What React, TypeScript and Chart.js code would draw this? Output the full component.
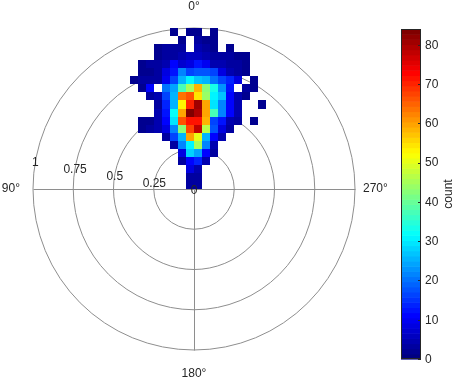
import React, { useEffect, useRef } from 'react';
import { Chart, registerables } from 'chart.js';

Chart.register(...registerables);

// ---- data ----
const binSize = 0.05;
// column bins (left edge index, x = k * binSize), k = -8 .. 8
const colIndex = [-8, -7, -6, -5, -4, -3, -2, -1, 0, 1, 2, 3, 4, 5, 6, 7, 8];
// row bins (bottom edge index, y = m * binSize), listed top to bottom
const rowIndex = [19, 18, 17, 16, 15, 14, 13, 12, 11, 10, 9, 8, 7, 6, 5, 4, 3, 2, 1, 0];
const counts: number[][] = [
  [0, 0, 0, 0, 0, 2, 0, 2, 2, 0, 2, 0, 0, 0, 0, 0, 0],
  [0, 0, 0, 0, 0, 0, 2, 0, 3, 2, 2, 0, 0, 0, 0, 0, 0],
  [0, 0, 0, 2, 3, 3, 3, 0, 4, 3, 2, 0, 2, 0, 0, 0, 0],
  [0, 0, 0, 2, 3, 3, 5, 6, 6, 4, 3, 3, 3, 2, 2, 0, 0],
  [0, 2, 3, 3, 4, 11, 7, 9, 12, 10, 4, 4, 3, 3, 2, 0, 0],
  [0, 2, 2, 3, 9, 13, 22, 17, 18, 18, 16, 9, 4, 3, 2, 0, 0],
  [2, 3, 3, 3, 10, 17, 25, 31, 27, 25, 20, 17, 14, 9, 0, 2, 0],
  [0, 2, 11, 0, 20, 24, 37, 45, 58, 42, 33, 23, 13, 0, 3, 2, 0],
  [0, 0, 3, 4, 16, 25, 63, 66, 55, 44, 31, 27, 11, 4, 2, 0, 0],
  [0, 0, 0, 3, 14, 26, 53, 70, 81, 60, 30, 22, 11, 4, 0, 0, 2],
  [0, 0, 0, 4, 12, 32, 60, 84, 80, 60, 37, 21, 11, 4, 0, 0, 0],
  [0, 2, 2, 5, 11, 30, 66, 71, 71, 59, 16, 12, 5, 3, 0, 2, 0],
  [0, 2, 3, 4, 9, 21, 42, 68, 78, 47, 18, 8, 3, 0, 0, 0, 0],
  [0, 0, 0, 0, 3, 16, 25, 60, 51, 26, 11, 4, 0, 0, 0, 0, 0],
  [0, 0, 0, 0, 0, 3, 22, 31, 45, 22, 4, 0, 0, 0, 0, 0, 0],
  [0, 0, 0, 0, 0, 0, 8, 28, 24, 11, 3, 0, 0, 0, 0, 0, 0],
  [0, 0, 0, 0, 0, 0, 3, 11, 14, 4, 0, 0, 0, 0, 0, 0, 0],
  [0, 0, 0, 0, 0, 0, 0, 8, 4, 0, 0, 0, 0, 0, 0, 0, 0],
  [0, 0, 0, 0, 0, 0, 0, 3, 3, 0, 0, 0, 0, 0, 0, 0, 0],
  [0, 0, 0, 0, 0, 0, 0, 3, 3, 0, 0, 0, 0, 0, 0, 0, 0],
];
const rTicks = [0, 0.25, 0.5, 0.75, 1];
const rTickLabels = ['0', '0.25', '0.5', '0.75', '1'];
const thetaTicks = [0, 90, 180, 270];
const thetaLabels = ['0°', '90°', '180°', '270°'];
const cbarTicks = [0, 10, 20, 30, 40, 50, 60, 70, 80];
const cMin = 0;
const cMax = 84;
const cbarTitle = 'count';

// ---- layout constants (pixels) ----
const W = 455;
const H = 379;
const CX = 194;
const CY = 189;
const RPX = 161;
const R_AXIS_ANGLE = 80; // degrees, theta measured from top, counter-clockwise
const CB = { left: 401, right: 421, top: 29, bottom: 359 };
const NCOLORS = 64;
const FONT = '12px "Liberation Sans", Arial, Helvetica, sans-serif';
const TEXT = '#262626';
const GRID = '#8e8e8e';

function jet(t: number): string {
  const c = (v: number) => Math.round(255 * Math.max(0, Math.min(1, v)));
  const r = 1.5 - Math.abs(4 * t - 3);
  const g = 1.5 - Math.abs(4 * t - 2);
  const b = 1.5 - Math.abs(4 * t - 1);
  return `rgb(${c(r)},${c(g)},${c(b)})`;
}
function colorFor(v: number): string {
  let t = (v - cMin) / (cMax - cMin);
  t = Math.max(0, Math.min(1, t));
  const idx = Math.min(NCOLORS - 1, Math.floor(t * NCOLORS));
  return jet(idx / (NCOLORS - 1));
}

const points: { x: number; y: number; v: number }[] = [];
rowIndex.forEach((m, i) => {
  colIndex.forEach((k, j) => {
    const v = counts[i][j];
    if (v > 0) points.push({ x: (k + 0.5) * binSize, y: (m + 0.5) * binSize, v });
  });
});

// draws each bin as a crisp rectangle, edges taken from the chart's scales
const binCells = {
  id: 'binCells',
  afterDatasetsDraw(chart: any) {
    const { ctx } = chart;
    const xs = chart.scales.x;
    const ys = chart.scales.y;
    const half = binSize / 2;
    ctx.save();
    points.forEach((p) => {
      const x0 = Math.round(xs.getPixelForValue(p.x - half));
      const x1 = Math.round(xs.getPixelForValue(p.x + half));
      const y0 = Math.round(ys.getPixelForValue(p.y + half));
      const y1 = Math.round(ys.getPixelForValue(p.y - half));
      ctx.fillStyle = colorFor(p.v);
      ctx.fillRect(x0, y0, x1 - x0, y1 - y0);
    });
    ctx.restore();
  },
};

const polarGrid = {
  id: 'polarGrid',
  beforeDatasetsDraw(chart: any) {
    const { ctx } = chart;
    const xs = chart.scales.x;
    const ys = chart.scales.y;
    const cx = xs.getPixelForValue(0);
    const cy = ys.getPixelForValue(0);
    const rMax = rTicks[rTicks.length - 1];
    const pr = (r: number) => xs.getPixelForValue(r) - cx;
    ctx.save();
    ctx.strokeStyle = GRID;
    ctx.lineWidth = 1;
    rTicks.forEach((r) => {
      if (r <= 0) return;
      ctx.beginPath();
      ctx.arc(cx, cy, pr(r), 0, Math.PI * 2);
      ctx.stroke();
    });
    thetaTicks.forEach((th) => {
      const a = (th * Math.PI) / 180;
      ctx.beginPath();
      ctx.moveTo(Math.round(cx) + 0.5, Math.round(cy) + 0.5);
      ctx.lineTo(Math.round(cx - Math.sin(a) * pr(rMax)) + 0.5, Math.round(cy - Math.cos(a) * pr(rMax)) + 0.5);
      ctx.stroke();
    });
    ctx.restore();
  },
  afterDraw(chart: any) {
    const { ctx } = chart;
    const xs = chart.scales.x;
    const ys = chart.scales.y;
    const cx = xs.getPixelForValue(0);
    const cy = ys.getPixelForValue(0);
    const rMax = rTicks[rTicks.length - 1];
    const pr = (r: number) => xs.getPixelForValue(r) - cx;
    ctx.save();
    ctx.font = FONT;
    ctx.fillStyle = TEXT;
    // r tick labels
    const ra = (R_AXIS_ANGLE * Math.PI) / 180;
    ctx.textAlign = 'center';
    ctx.textBaseline = 'middle';
    rTicks.forEach((r, i) => {
      const x = cx - Math.sin(ra) * pr(r);
      const y = cy - Math.cos(ra) * pr(r) + 1.5;
      ctx.fillText(rTickLabels[i], x, y);
    });
    // theta labels
    const R = pr(rMax);
    thetaTicks.forEach((th, i) => {
      const label = thetaLabels[i];
      if (th === 0) {
        ctx.textAlign = 'center';
        ctx.textBaseline = 'middle';
        ctx.fillText(label, cx, cy - R - 21);
      } else if (th === 180) {
        ctx.textAlign = 'center';
        ctx.textBaseline = 'middle';
        ctx.fillText(label, cx, cy + R + 24);
      } else if (th === 90) {
        ctx.textAlign = 'right';
        ctx.textBaseline = 'middle';
        ctx.fillText(label, cx - R - 13, cy);
      } else {
        ctx.textAlign = 'left';
        ctx.textBaseline = 'middle';
        ctx.fillText(label, cx + R + 8, cy);
      }
    });
    // colorbar
    const h = CB.bottom - CB.top;
    for (let i = 0; i < NCOLORS; i++) {
      const y0 = CB.bottom - (h * (i + 1)) / NCOLORS;
      ctx.fillStyle = jet(i / (NCOLORS - 1));
      ctx.fillRect(CB.left, y0, CB.right - CB.left, h / NCOLORS + 0.6);
    }
    ctx.strokeStyle = TEXT;
    ctx.lineWidth = 1;
    ctx.strokeRect(CB.left + 0.5, CB.top + 0.5, CB.right - CB.left - 1, h - 1);
    ctx.fillStyle = TEXT;
    ctx.textAlign = 'left';
    ctx.textBaseline = 'middle';
    cbarTicks.forEach((v) => {
      const y = CB.bottom - ((v - cMin) / (cMax - cMin)) * h;
      ctx.beginPath();
      ctx.moveTo(CB.right - 3, Math.round(y) + 0.5);
      ctx.lineTo(CB.right, Math.round(y) + 0.5);
      ctx.stroke();
      ctx.fillText(String(v), CB.right + 4, y + 0.5);
    });
    ctx.save();
    ctx.translate(449, (CB.top + CB.bottom) / 2);
    ctx.rotate(-Math.PI / 2);
    ctx.textAlign = 'center';
    ctx.textBaseline = 'middle';
    ctx.fillText(cbarTitle, 0, 0);
    ctx.restore();
    ctx.restore();
  },
};

export default function App() {
  const ref = useRef<HTMLCanvasElement | null>(null);
  useEffect(() => {
    document.body.style.margin = '0';
    const canvas = ref.current;
    if (!canvas) return;
    const chart = new Chart(canvas, {
      type: 'scatter',
      data: {
        datasets: [
          {
            data: points as any,
            pointStyle: 'rect',
            pointRadius: 0,
            pointHoverRadius: 0,
            backgroundColor: ((c: any) => colorFor(c.raw ? c.raw.v : 0)) as any,
          } as any,
        ],
      },
      options: {
        animation: false,
        responsive: false,
        maintainAspectRatio: false,
        events: [],
        layout: { padding: 0 },
        plugins: { legend: { display: false }, tooltip: { enabled: false } },
        scales: {
          x: { type: 'linear', display: false, min: -CX / RPX, max: (W - CX) / RPX },
          y: { type: 'linear', display: false, min: -(H - CY) / RPX, max: CY / RPX },
        },
      },
      plugins: [polarGrid as any, binCells as any],
    });
    return () => chart.destroy();
  }, []);
  return <canvas ref={ref} width={W} height={H} style={{ display: 'block', width: W, height: H }} />;
}
